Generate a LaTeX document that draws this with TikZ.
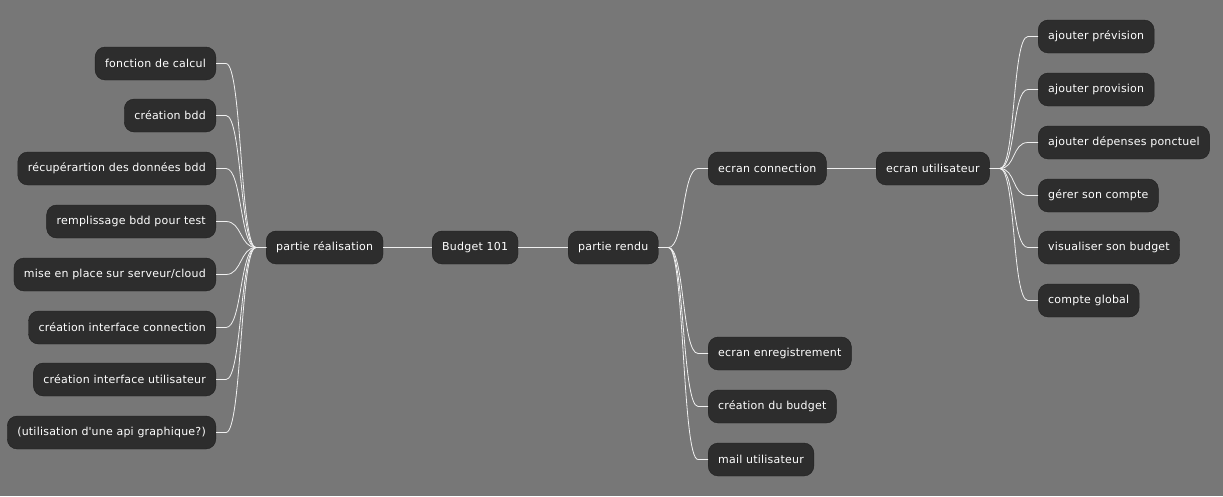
\documentclass[tikz,border=0pt]{standalone}
\usepackage{fontspec}
\setmainfont[LetterSpace=2]{DejaVu Sans}
\definecolor{bggray}{HTML}{777777}
\definecolor{boxfill}{HTML}{2D2D2D}
\definecolor{boxline}{HTML}{1F1F1F}
\definecolor{wire}{HTML}{F0F0F0}

\tikzset{
  topic/.style={draw=boxline, fill=boxfill, text=white, rounded corners=10pt,
    minimum height=33pt, inner xsep=10pt, font=\fontsize{11}{13}\selectfont},
  link/.style={draw=wire, line width=0.8pt},
}

\begin{document}
\begin{tikzpicture}[x=1pt, y=-1pt]
    \useasboundingbox[fill=bggray] (0,0) rectangle (1223,496);

    % centre
    \node[topic, anchor=west] (root) at (432,247.5) {Budget 101};
    \node[topic, anchor=west] (real) at (266,247.5) {partie réalisation};
    \node[topic, anchor=west] (rendu) at (568,247.5) {partie rendu};

    % partie réalisation
    \node[topic, anchor=east] (calc) at (216,63.5) {fonction de calcul};
    \node[topic, anchor=east] (bdd) at (216,115.5) {création bdd};
    \node[topic, anchor=east] (recup) at (216,168.5) {récupérartion des données bdd};
    \node[topic, anchor=east] (remp) at (216,221.5) {remplissage bdd pour test};
    \node[topic, anchor=east] (serv) at (216,274.5) {mise en place sur serveur/cloud};
    \node[topic, anchor=east] (iconn) at (216,327.5) {création interface connection};
    \node[topic, anchor=east] (iuser) at (216,379.5) {création interface utilisateur};
    \node[topic, anchor=east] (api) at (216,432.5) {(utilisation d\textquotesingle une api graphique?)};

    % partie rendu
    \node[topic, anchor=west] (conn) at (708,168.5) {ecran connection};
    \node[topic, anchor=west] (user) at (876,168.5) {ecran utilisateur};
    \node[topic, anchor=west] (enreg) at (708,353.5) {ecran enregistrement};
    \node[topic, anchor=west] (budg) at (708,406.5) {création du budget};
    \node[topic, anchor=west] (mail) at (708,459.5) {mail utilisateur};

    % ecran utilisateur
    \node[topic, anchor=west] (prev) at (1038,36.5) {ajouter prévision};
    \node[topic, anchor=west] (prov) at (1038,89.5) {ajouter provision};
    \node[topic, anchor=west] (dep) at (1038,142.5) {ajouter dépenses ponctuel};
    \node[topic, anchor=west] (gere) at (1038,195.5) {gérer son compte};
    \node[topic, anchor=west] (visu) at (1038,247.5) {visualiser son budget};
    \node[topic, anchor=west] (glob) at (1038,300.5) {compte global};

    \draw[link] (real) -- (root) -- (rendu);
    \draw[link] (conn) -- (user);

    \foreach \kid in {calc, bdd, recup, remp, serv, iconn, iuser, api}
        \draw[link] (\kid.east) -- ++(10,0) .. controls +(16,0) and +(-16,0) ..
              ([xshift=-10pt]real.west) -- (real.west);
    \foreach \kid in {conn, enreg, budg, mail}
        \draw[link] (rendu.east) -- ++(10,0) .. controls +(16,0) and +(-16,0) ..
              ([xshift=-10pt]\kid.west) -- (\kid.west);
    \foreach \kid in {prev, prov, dep, gere, visu, glob}
        \draw[link] (user.east) -- ++(10,0) .. controls +(16,0) and +(-16,0) ..
              ([xshift=-10pt]\kid.west) -- (\kid.west);
\end{tikzpicture}
\end{document}
